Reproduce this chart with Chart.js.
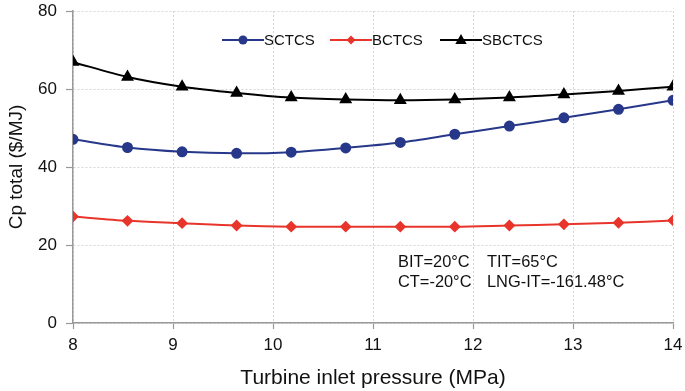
<!DOCTYPE html>
<html>
<head>
<meta charset="utf-8">
<script src="https://cdn.jsdelivr.net/npm/chart.js@4/dist/chart.umd.min.js"></script>
<style>
  html, body { margin: 0; padding: 0; background: #fff; }
  #wrap { width: 685px; height: 391px; }
</style>
</head>
<body>
<div id="wrap"><canvas id="cpChart" width="685" height="391"></canvas></div>
<script>
/* ---------- data ---------- */
const pressure = [8, 8.545, 9.091, 9.636, 10.182, 10.727, 11.273, 11.818, 12.364, 12.909, 13.455, 14];
const sctcs  = [47.1, 45.0, 43.9, 43.5, 43.8, 44.9, 46.3, 48.4, 50.5, 52.6, 54.8, 57.1];
const bctcs  = [27.3, 26.2, 25.6, 25.0, 24.7, 24.7, 24.7, 24.7, 25.0, 25.3, 25.7, 26.3];
const sbctcs = [66.9, 63.1, 60.6, 59.0, 57.8, 57.3, 57.1, 57.3, 57.8, 58.6, 59.5, 60.6];
const seriesNames = ["SCTCS", "BCTCS", "SBCTCS"];
const noteLines = [["BIT=20°C", "TIT=65°C"], ["CT=-20°C", "LNG-IT=-161.48°C"]];

const FONT = "'Liberation Sans', Arial, Helvetica, sans-serif";
const BLUE = "#27388a", RED = "#e8352b", BLACK = "#000";

const toXY = arr => arr.map((v, i) => ({ x: pressure[i], y: v }));

/* ---------- marker helper ---------- */
function drawMarker(ctx, style, x, y, r, color) {
  ctx.save();
  ctx.fillStyle = color;
  ctx.beginPath();
  if (style === "circle") {
    ctx.arc(x, y, r, 0, Math.PI * 2);
  } else if (style === "rectRot") {
    ctx.moveTo(x, y - r); ctx.lineTo(x + r, y); ctx.lineTo(x, y + r); ctx.lineTo(x - r, y);
  } else {
    ctx.moveTo(x, y - r); ctx.lineTo(x + r * 0.95, y + r * 0.65); ctx.lineTo(x - r * 0.95, y + r * 0.65);
  }
  ctx.closePath();
  ctx.fill();
  ctx.restore();
}

/* ---------- legend + notes ---------- */
const extras = {
  id: "extras",
  afterDraw(chart) {
    const ctx = chart.ctx;
    const items = [
      { x: 222, style: "circle", r: 4.5, color: BLUE },
      { x: 330, style: "rectRot", r: 4.5, color: RED },
      { x: 440, style: "triangle", r: 6, color: BLACK }
    ];
    const ly = 40;
    ctx.save();
    ctx.font = "15px " + FONT;
    ctx.textBaseline = "middle";
    items.forEach((it, i) => {
      ctx.strokeStyle = it.color;
      ctx.lineWidth = 2;
      ctx.beginPath();
      ctx.moveTo(it.x, ly); ctx.lineTo(it.x + 42, ly);
      ctx.stroke();
      drawMarker(ctx, it.style, it.x + 21, ly, it.r, it.color);
      ctx.fillStyle = "#111";
      ctx.fillText(seriesNames[i], it.x + 42, ly + 1);
    });

    ctx.font = "16.4px " + FONT;
    ctx.textBaseline = "middle";
    ctx.fillStyle = "#111";
    noteLines.forEach((ln, i) => {
      const y = 262 + i * 20;
      ctx.fillText(ln[0], 398, y);
      ctx.fillText(ln[1], 487, y);
    });
    ctx.restore();
  }
};

// keep the plot box where the figure has it
function noPad(s) {
  s.paddingTop = 0; s.paddingBottom = 0; s.paddingLeft = 0; s.paddingRight = 0;
}

/* ---------- chart ---------- */
new Chart(document.getElementById("cpChart"), {
  type: "line",
  data: {
    datasets: [
      { label: seriesNames[0], data: toXY(sctcs), borderColor: BLUE, backgroundColor: BLUE,
        pointStyle: "circle", pointRadius: 4.5, borderWidth: 2, tension: 0.3 },
      { label: seriesNames[1], data: toXY(bctcs), borderColor: RED, backgroundColor: RED,
        pointStyle: "rectRot", pointRadius: 4.5, borderWidth: 2, tension: 0.3 },
      { label: seriesNames[2], data: toXY(sbctcs), borderColor: BLACK, backgroundColor: BLACK,
        pointStyle: "triangle", pointRadius: 5.5, borderWidth: 2, tension: 0.3 }
    ]
  },
  options: {
    responsive: false,
    animation: false,
    layout: { padding: { top: 11, right: 12, left: 0, bottom: 0 } },
    plugins: { legend: { display: false }, tooltip: { enabled: false } },
    elements: { point: { borderWidth: 0 } },
    scales: {
      x: {
        type: "linear", min: 8, max: 14,
        ticks: { stepSize: 1, color: "#111", font: { family: FONT, size: 17 }, padding: 6 },
        grid: { color: "#d6d6d6", lineWidth: 1, tickColor: "#999", tickLength: 6, tickWidth: 1.2 },
        border: { color: "#999", width: 1.5, dash: [2, 2] },
        title: { display: true, text: "Turbine inlet pressure (MPa)", color: "#111",
                 font: { family: FONT, size: 21 }, padding: { top: 0, bottom: 0 } },
        afterFit(s) { s.height = 68; noPad(s); }
      },
      y: {
        min: 0, max: 80,
        ticks: { stepSize: 20, color: "#111", font: { family: FONT, size: 17 }, padding: 9 },
        grid: { color: "#d6d6d6", lineWidth: 1, tickColor: "#999", tickLength: 7, tickWidth: 1.2 },
        border: { color: "#999", width: 1.5, dash: [2, 2] },
        title: { display: true, text: "Cp total ($/MJ)", color: "#111",
                 font: { family: FONT, size: 19 }, padding: { top: 5, bottom: 0 } },
        afterFit(s) { s.width = 73; noPad(s); }
      }
    }
  },
  plugins: [extras]
});
</script>
</body>
</html>
